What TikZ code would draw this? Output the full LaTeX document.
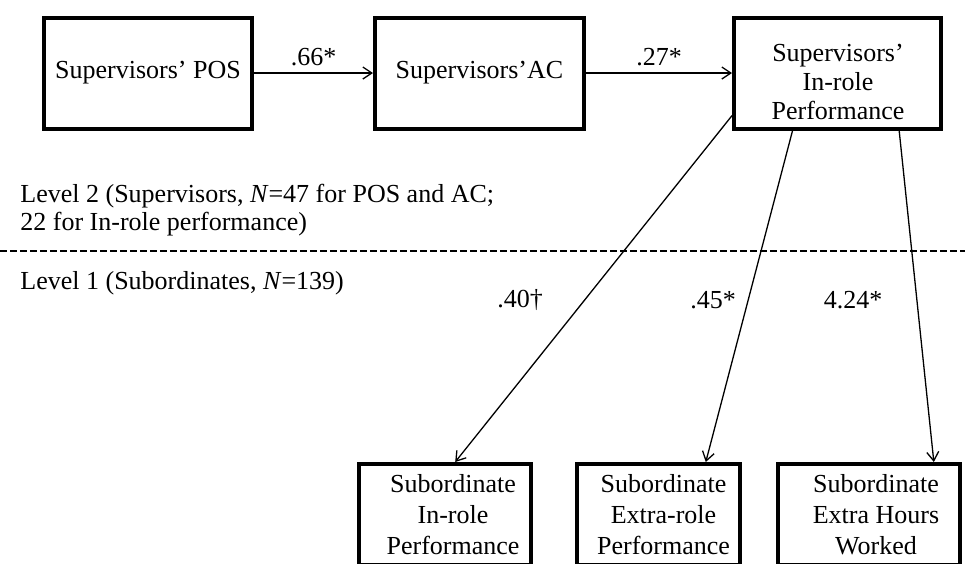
\documentclass[tikz,border=0pt]{standalone}
\usepackage{fontspec}
\setmainfont{Liberation Serif}
\usetikzlibrary{arrows.meta,positioning}
\tikzset{
  bigbox/.style={draw,line width=2pt,minimum width=104pt,minimum height=55.5pt,inner sep=0pt,align=center},
  lowbox/.style={draw,line width=2pt,minimum height=50.5pt,inner sep=0pt},
  txt/.style={align=center,inner sep=0pt},
  lowtxt/.style={txt,font=\fontsize{13}{15.5}\selectfont},
  lvl/.style={anchor=west,align=left,inner sep=0pt,font=\fontsize{13}{14}\selectfont},
  coef/.style={inner sep=3pt},
  arr/.style={-{Straight Barb[length=4.5pt,width=6pt]},line width=0.65pt},
  split/.style={line width=0.7pt,dash pattern=on 3.5pt off 1.5pt},
}

\begin{document}
\begin{tikzpicture}[x=0.5pt,y=-0.5pt,font=\fontsize{13}{14.5}\selectfont]
\path[use as bounding box] (0,0) rectangle (965,563);
\clip (0,0) rectangle (965,563);
% level 2
\node[bigbox] (pos) at (148,73) {Supervisors’ POS};
\node[bigbox,minimum width=104.5pt] (ac) at (479.5,73) {Supervisors’AC};
\node[bigbox,minimum width=103.5pt] (sir) at (837.5,73) {};
\node[txt] (sirt) at (838,82) {Supervisors’\\In-role\\Performance};
\draw[arr] (pos) -- node[coef,above] (c1) {.66*} (ac);
\draw[arr] (ac) -- node[coef,above] (c2) {.27*} (sir);
\node[lvl] (lv2) at (20,210) {Level 2 (Supervisors, \textit{N}=47 for POS and AC;\\22 for In-role performance)};
% split between levels
\coordinate (dl) at (0,251);
\coordinate (dr) at (965,251);
\draw[split] (dl) -- (dr);
% level 1
\node[lvl] (lv1) at (20,283) {Level 1 (Subordinates, \textit{N}=139)};
\node[lowbox,minimum width=86pt] (sub1) at (445,514.5) {};
\node[lowbox,minimum width=81.5pt] (sub2) at (658.5,514.5) {};
\node[lowbox,minimum width=91pt] (sub3) at (869,514.5) {};
\node[lowtxt] (sub1t) at (453,514.5) {Subordinate\\In-role\\Performance};
\node[lowtxt] (sub2t) at (663.5,514.5) {Subordinate\\Extra-role\\Performance};
\node[lowtxt] (sub3t) at (876,514.5) {Subordinate\\Extra Hours\\Worked};
\draw[arr] (sir.202) -- (sub1.79);
\draw[arr] (sir.232) -- (sub2.48);
\draw[arr] (sir.317) -- (sub3.39);
\node (c3) at (520,300) {.40†};
\node (c4) at (713,300) {.45*};
\node (c5) at (853,300) {4.24*};
\end{tikzpicture}
\end{document}
